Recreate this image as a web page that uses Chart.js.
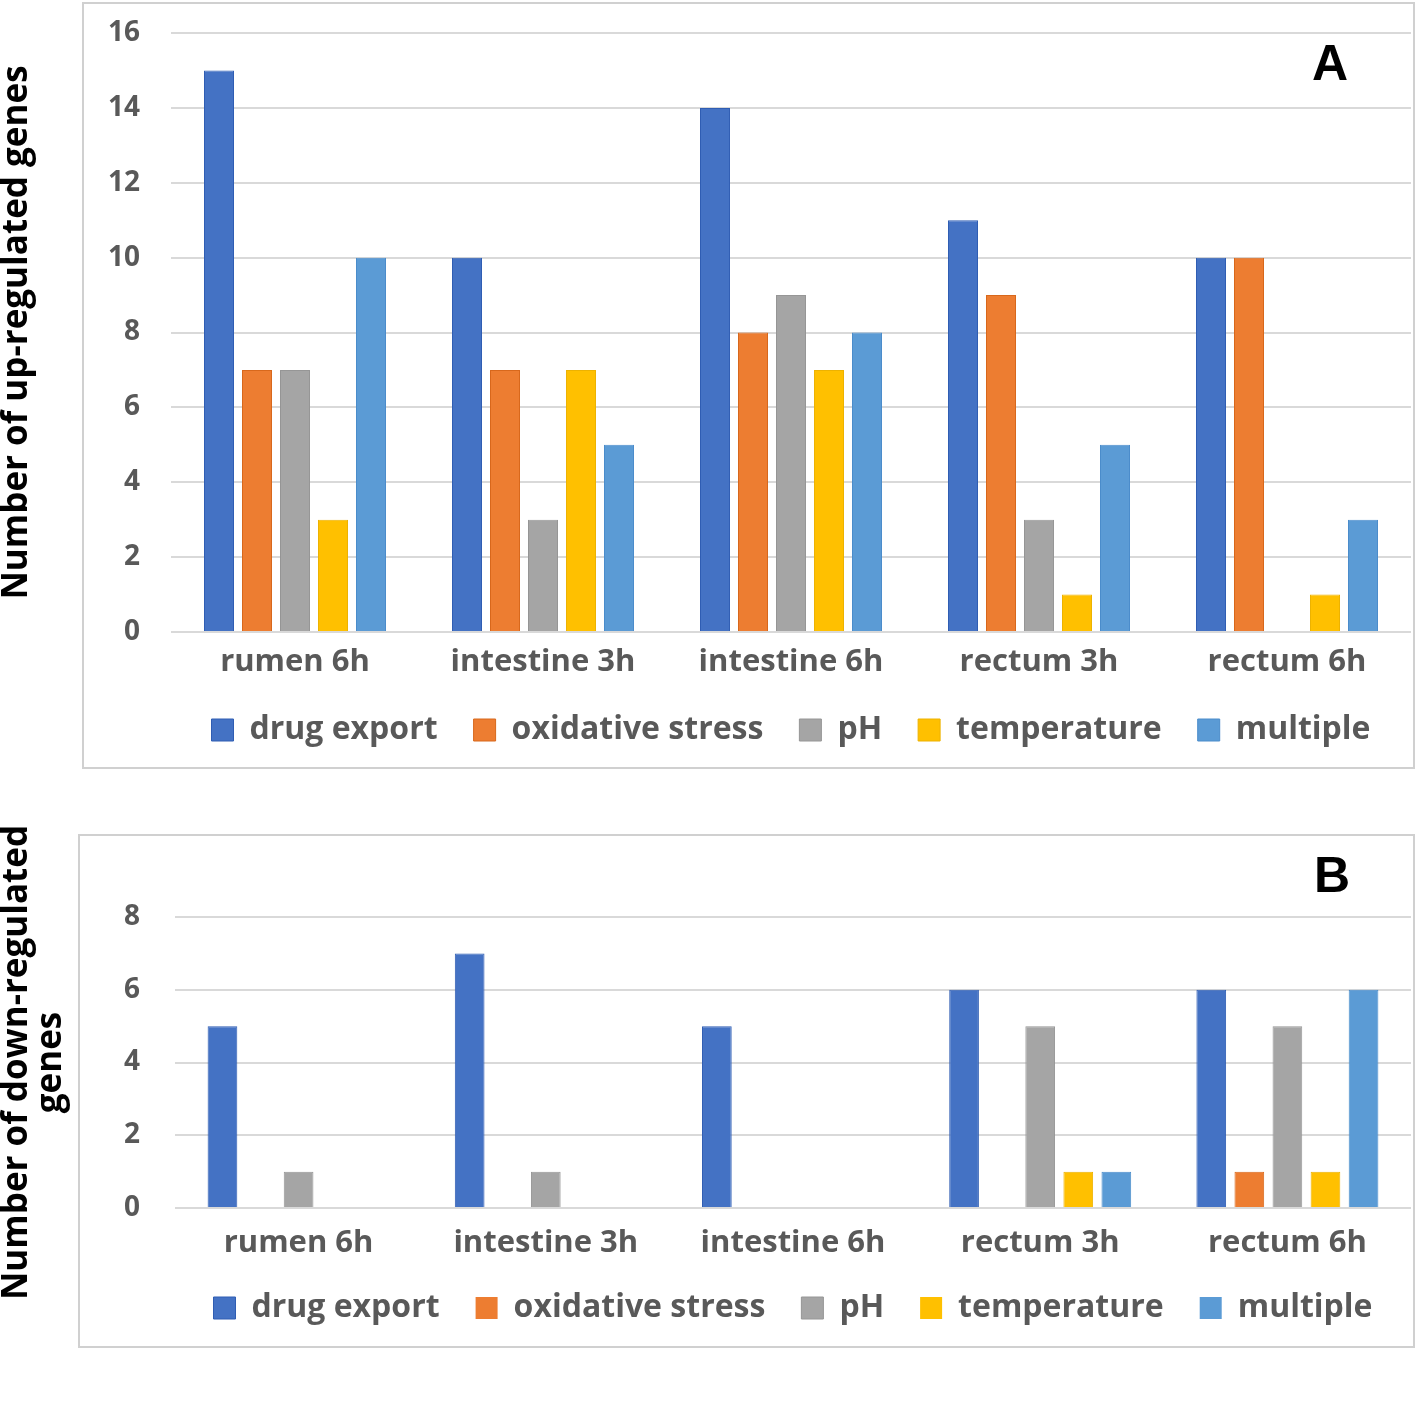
<!DOCTYPE html>
<html>
<head>
<meta charset="utf-8">
<script src="https://cdn.jsdelivr.net/npm/chart.js@4.4.0/dist/chart.umd.min.js"></script>
<style>
  body { margin: 0; background: #fff; width: 1416px; height: 1403px; position: relative; overflow: hidden; }
  .box { position: absolute; border: 2px solid #d0d0d0; box-sizing: border-box; }
  .wrap { position: absolute; left: 0; width: 1416px; }
  .tag { position: absolute; font: bold 50px "Liberation Sans", Arial, sans-serif; line-height: 1; color: #000; }
</style>
</head>
<body>
<div class="box" style="left:82px;top:2px;width:1333px;height:767px"></div>
<div class="box" style="left:78px;top:834px;width:1337px;height:514px"></div>
<div class="wrap" style="top:0"><canvas id="chartA" width="1416" height="790"></canvas></div>
<div class="wrap" style="top:800px"><canvas id="chartB" width="1416" height="560"></canvas></div>
<div class="tag" style="left:1312px;top:38px">A</div>
<div class="tag" style="left:1314px;top:850px">B</div>
<script>
// categories and series
const categories = ['rumen 6h', 'intestine 3h', 'intestine 6h', 'rectum 3h', 'rectum 6h'];
const seriesNames = ['drug export', 'oxidative stress', 'pH', 'temperature', 'multiple'];
const seriesColors = ['#4472C4', '#ED7D31', '#A5A5A5', '#FFC000', '#5B9BD5'];
const seriesBorders = ['#2F5DB3', '#D8681C', '#969696', '#EDB200', '#4A8CCB'];

// panel A: up-regulated genes
const upDrugExport = [15, 10, 14, 11, 10];
const upOxidativeStress = [7, 7, 8, 9, 10];
const upPH = [7, 3, 9, 3, 0];
const upTemperature = [3, 7, 7, 1, 1];
const upMultiple = [10, 5, 8, 5, 3];

// panel B: down-regulated genes
const downDrugExport = [5, 7, 5, 6, 6];
const downOxidativeStress = [0, 0, 0, 0, 1];
const downPH = [1, 1, 0, 5, 5];
const downTemperature = [0, 0, 0, 1, 1];
const downMultiple = [0, 0, 0, 1, 6];

const font = '"Open Sans", "DejaVu Sans", sans-serif';
const gray = '#595959';

function makeDatasets(series, catPct, barPct) {
  return series.map((values, i) => ({
    label: seriesNames[i],
    data: values,
    backgroundColor: seriesColors[i],
    borderColor: seriesBorders[i],
    borderWidth: ctx => (ctx.raw ? 1 : 0),
    categoryPercentage: catPct,
    barPercentage: barPct
  }));
}

function makeChart(id, series, opts) {
  return new Chart(document.getElementById(id), {
    type: 'bar',
    data: {
      labels: categories,
      datasets: makeDatasets(series, opts.catPct, opts.barPct)
    },
    options: {
      responsive: false,
      animation: false,
      layout: { padding: { top: opts.padTop, bottom: opts.padBottom, right: 5 } },
      plugins: {
        tooltip: { enabled: false },
        legend: {
          position: 'bottom',
          fullSize: false,
          labels: {
            boxWidth: 22,
            boxHeight: 22,
            padding: 36,
            color: gray,
            font: { family: font, size: 32, weight: 'bold' }
          }
        }
      },
      scales: {
        x: {
          afterFit: s => { s.height = opts.xHeight; },
          grid: { display: false, drawTicks: false },
          border: { display: false },
          ticks: {
            color: gray,
            padding: opts.xPad,
            font: { family: font, size: 31, weight: 'bold' }
          }
        },
        y: {
          min: 0,
          max: opts.max,
          afterFit: s => { s.width = opts.left; },
          // invisible tick marks keep the gap between labels and plot
          grid: { color: '#d9d9d9', lineWidth: 2, tickLength: opts.yGap, tickColor: 'rgba(0,0,0,0)' },
          border: { display: false },
          ticks: {
            stepSize: 2,
            color: gray,
            padding: 0,
            font: { family: font, size: 28, weight: 'bold' }
          },
          title: {
            display: true,
            text: opts.title,
            color: '#000',
            padding: { top: 0, bottom: 0 },
            font: { family: font, size: 35, weight: 'bold', lineHeight: 0.97 }
          }
        }
      }
    }
  });
}

makeChart('chartA', [upDrugExport, upOxidativeStress, upPH, upTemperature, upMultiple], {
  title: 'Number of up-regulated genes',
  max: 16, left: 171, padTop: 33, padBottom: 34, xHeight: 46,
  xPad: 12, yGap: 31, catPct: 0.766, barPct: 0.79
});

makeChart('chartB', [downDrugExport, downOxidativeStress, downPH, downTemperature, downMultiple], {
  title: ['Number of down-regulated', 'genes'],
  max: 8, left: 175, padTop: 117, padBottom: 26, xHeight: 48,
  xPad: 17, yGap: 35, catPct: 0.77, barPct: 0.78
});
</script>
</body>
</html>
